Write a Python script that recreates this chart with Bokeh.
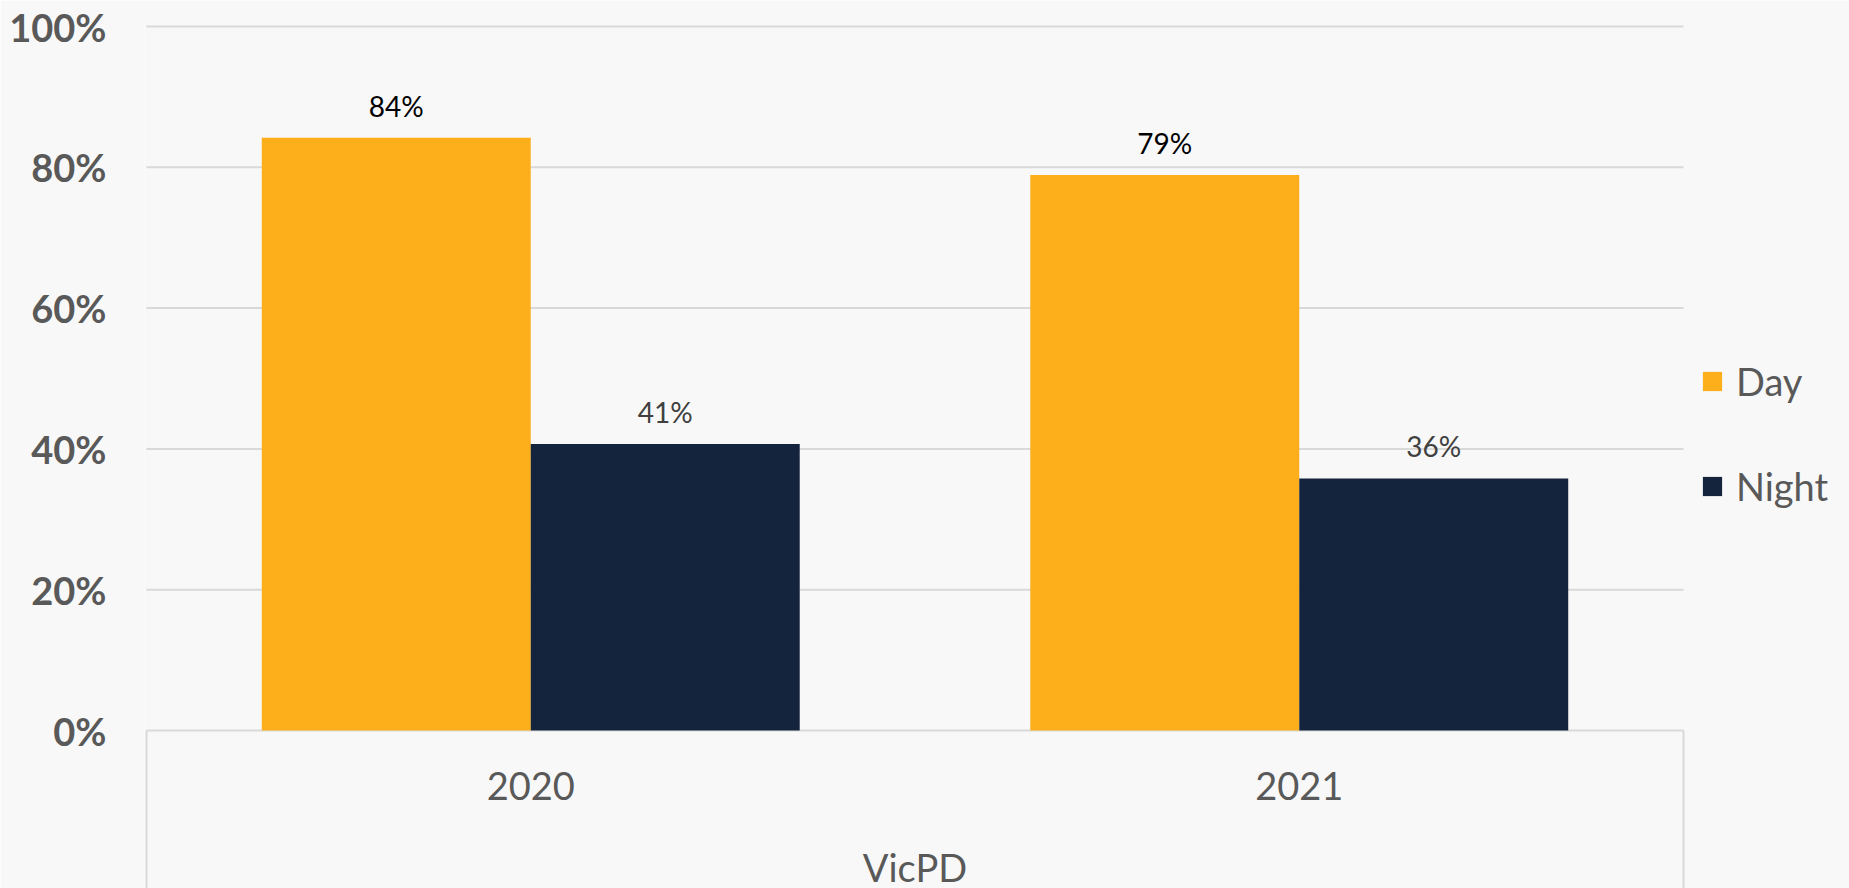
from bokeh.plotting import figure
from bokeh.models import (Range1d, FixedTicker, NumeralTickFormatter, LinearAxis,
                          Legend, LegendItem)
from bokeh.core.properties import value
from bokeh.embed import file_html
from bokeh.resources import INLINE

# ---- data ----
categories = ["2020", "2021"]
group_label = "VicPD"
series_names = ["Day", "Night"]
day_values = [0.842, 0.789]
night_values = [0.407, 0.358]
y_ticks = [0, 0.2, 0.4, 0.6, 0.8, 1.0]

# ---- style ----
BG = "#f8f8f8"
GRID = "#d9d9d9"
TXT = "#595959"
DAY_C = "#fcaf1b"
NIGHT_C = "#14243d"
FONT = "Lato"
BAR_W = 0.35

W, H = 1849, 888
n = len(categories)
PX_X = 768.5      # pixels per category
PX_Y = 704.0      # pixels per 100%
LEFT = 144
TOP = 23
ZERO_Y = 730
x0 = -2 / PX_X
x1 = x0 + (W - LEFT) / PX_X
y1 = (ZERO_Y - TOP) / PX_Y
y0 = -(H - ZERO_Y) / PX_Y

p = figure(width=W, height=H, output_backend="svg", toolbar_location=None,
           x_range=Range1d(x0, x1), y_range=Range1d(y0, y1),
           x_axis_type=None, y_axis_type=None,
           min_border_left=LEFT, min_border_right=0, min_border_top=TOP,
           min_border_bottom=0)
p.background_fill_color = BG
p.border_fill_color = BG
p.outline_line_color = None
p.xgrid.visible = False
p.ygrid.visible = False

centers = [i + 0.5 for i in range(n)]
day_x = [c - BAR_W / 2 for c in centers]
night_x = [c + BAR_W / 2 for c in centers]

# y axis
yax = LinearAxis(ticker=FixedTicker(ticks=y_ticks),
                 formatter=NumeralTickFormatter(format="0%"))
yax.axis_line_color = None
yax.major_tick_line_color = None
yax.minor_tick_line_color = None
yax.major_tick_out = 0
yax.major_label_standoff = 38
yax.major_label_text_font = FONT
yax.major_label_text_font_style = "bold"
yax.major_label_text_font_size = "38px"
yax.major_label_text_color = TXT
p.add_layout(yax, "left")

# horizontal gridlines across the category area
p.segment(x0=[0] * len(y_ticks), y0=y_ticks, x1=[n] * len(y_ticks), y1=y_ticks,
          line_color=GRID, line_width=2)

# category-axis frame lines (left/right edges below the baseline)
p.segment(x0=[0, n], y0=[0, 0], x1=[0, n], y1=[y0, y0],
          line_color=GRID, line_width=2)

# bars
r_day = p.vbar(x=day_x, top=day_values, width=BAR_W, bottom=0,
               fill_color=DAY_C, line_color=None)
r_night = p.vbar(x=night_x, top=night_values, width=BAR_W, bottom=0,
                 fill_color=NIGHT_C, line_color=None)

# category labels and group label
p.text(x=centers, y=[0] * n, text=categories, text_font=value(FONT),
       text_font_size="38px", text_color=TXT, text_align="center",
       text_baseline="middle", y_offset=55)
p.text(x=[n / 2], y=[0], text=[group_label], text_font=value(FONT),
       text_font_size="38px", text_color=TXT, text_align="center",
       text_baseline="middle", y_offset=136)

# data labels
def pct(v):
    return f"{round(v * 100)}%"

p.text(x=day_x, y=day_values, text=[pct(v) for v in day_values],
       text_font=value(FONT), text_font_size="28px", text_color="#000000",
       text_align="center", text_baseline="alphabetic", y_offset=-32)
p.text(x=night_x, y=night_values, text=[pct(v) for v in night_values],
       text_font=value(FONT), text_font_size="28px", text_color="#404040",
       text_align="center", text_baseline="alphabetic", y_offset=-32)

legend = Legend(items=[LegendItem(label=series_names[0], renderers=[r_day]),
                       LegendItem(label=series_names[1], renderers=[r_night])],
                location=(1556, 379), orientation="vertical",
                glyph_width=24, glyph_height=24, label_height=40,
                label_standoff=12, spacing=59, padding=0, margin=0,
                border_line_color=None, background_fill_alpha=0,
                label_text_font=FONT, label_text_font_size="38px",
                label_text_color=TXT)
p.add_layout(legend, "center")

open("out.html", "w").write(file_html(p, INLINE))
